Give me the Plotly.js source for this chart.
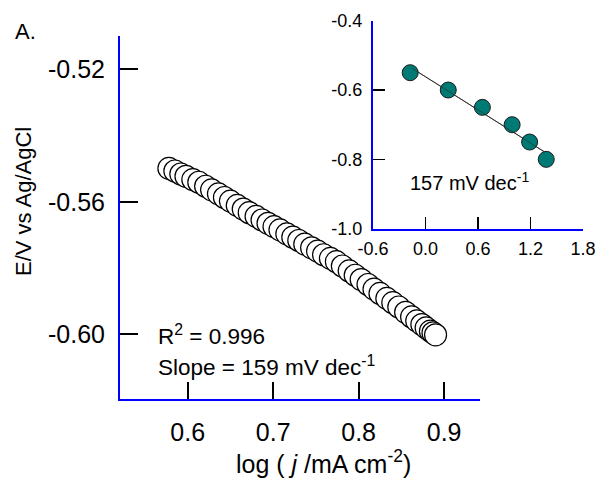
<!DOCTYPE html>
<html>
<head>
<meta charset="utf-8">
<script src="https://cdn.plot.ly/plotly-3.0.1.min.js"></script>
<style>html,body{margin:0;padding:0;background:#fff;}#chart{width:598px;height:479px;}</style>
</head>
<body>
<div id="chart"></div>
<script>
// Main Tafel data: log(j / mA cm^-2) vs E / V vs Ag/AgCl
const logJ = [0.578, 0.585, 0.592, 0.598, 0.606, 0.613, 0.621, 0.628, 0.636, 0.643,
  0.650, 0.658, 0.665, 0.672, 0.680, 0.687, 0.694, 0.701, 0.708, 0.716,
  0.723, 0.730, 0.737, 0.745, 0.752, 0.759, 0.767, 0.774, 0.781, 0.789,
  0.796, 0.803, 0.811, 0.818, 0.825, 0.833, 0.840, 0.847, 0.855, 0.862,
  0.868, 0.874, 0.879, 0.884, 0.887, 0.890];
const potential = [-0.5499, -0.5507, -0.5516, -0.5523, -0.5533, -0.5541, -0.5553, -0.5564, -0.5576, -0.5587,
  -0.5598, -0.5611, -0.5622, -0.5633, -0.5644, -0.5655, -0.5665, -0.5675, -0.5685, -0.5697,
  -0.5707, -0.5717, -0.5728, -0.5739, -0.5749, -0.5760, -0.5771, -0.5781, -0.5794, -0.5809,
  -0.5822, -0.5835, -0.5850, -0.5864, -0.5877, -0.5892, -0.5905, -0.5918, -0.5934, -0.5948,
  -0.5960, -0.5971, -0.5981, -0.5991, -0.5996, -0.6002];

// Inset data
const insetX = [-0.175, 0.26, 0.65, 0.99, 1.19, 1.38];
const insetY = [-0.55, -0.60, -0.65, -0.70, -0.75, -0.80];
const insetFitX = [-0.155, 1.357];
const insetFitY = [-0.537, -0.778];

// Tick labels
const mainXTicks = [0.6, 0.7, 0.8, 0.9];
const mainXTickText = ["0.6", "0.7", "0.8", "0.9"];
const mainYTicks = [-0.52, -0.56, -0.60];
const mainYTickText = ["-0.52", "-0.56", "-0.60"];
const insetXTicks = [-0.6, 0.0, 0.6, 1.2, 1.8];
const insetXTickText = ["-0.6", "0.0", "0.6", "1.2", "1.8"];
const insetYTicks = [-1.0, -0.8, -0.6, -0.4];
const insetYTickText = ["-1.0", "-0.8", "-0.6", "-0.4"];

const W = 598, H = 479;
const px = v => v / W;
const py = v => 1 - v / H;
const FONT = "Arial, 'Liberation Sans', sans-serif";

const traces = [
  {
    x: logJ, y: potential, type: 'scatter', mode: 'markers',
    xaxis: 'x', yaxis: 'y',
    marker: {size: 22, color: '#ffffff', line: {color: '#000000', width: 1.2}},
    cliponaxis: false, hoverinfo: 'skip'
  },
  {
    x: insetFitX, y: insetFitY, type: 'scatter', mode: 'lines',
    xaxis: 'x2', yaxis: 'y2',
    line: {color: '#333333', width: 1}, hoverinfo: 'skip'
  },
  {
    x: insetX, y: insetY, type: 'scatter', mode: 'markers',
    xaxis: 'x2', yaxis: 'y2',
    marker: {size: 16, color: '#007a74', line: {color: '#1a1a1a', width: 1}},
    cliponaxis: false, hoverinfo: 'skip'
  },
  {
    x: insetFitX, y: insetFitY, type: 'scatter', mode: 'lines',
    xaxis: 'x2', yaxis: 'y2',
    line: {color: 'rgba(40,40,40,0.6)', width: 1}, hoverinfo: 'skip'
  }
];

const axisCommon = {
  showgrid: false, zeroline: false, showline: true,
  linecolor: '#0000ff', linewidth: 2,
  ticks: 'inside', tickcolor: '#000000',
  tickmode: 'array', fixedrange: true
};

const layout = {
  width: W, height: H,
  margin: {l: 0, r: 0, t: 0, b: 0},
  paper_bgcolor: '#ffffff', plot_bgcolor: 'rgba(0,0,0,0)',
  showlegend: false,
  font: {family: FONT, color: '#000000'},
  xaxis: Object.assign({}, axisCommon, {
    domain: [px(120), px(480)], range: [0.5208, 0.942],
    anchor: 'y', tickvals: mainXTicks, ticktext: mainXTickText,
    ticklen: 17, tickwidth: 2, tickfont: {size: 25, family: FONT},
    ticklabelstandoff: 10
  }),
  yaxis: Object.assign({}, axisCommon, {
    domain: [1 - 399 / H, 1 - 36 / H], range: [-0.6196, -0.5099],
    anchor: 'x', tickvals: mainYTicks, ticktext: mainYTickText,
    ticklen: 18, tickwidth: 2, tickfont: {size: 25, family: FONT},
    ticklabelstandoff: 8
  }),
  xaxis2: Object.assign({}, axisCommon, {
    domain: [px(373), px(583)], range: [-0.6, 1.8],
    anchor: 'y2', tickvals: insetXTicks, ticktext: insetXTickText,
    ticklen: 12, tickwidth: 1.5, tickfont: {size: 18, family: FONT},
    ticklabelstandoff: 3
  }),
  yaxis2: Object.assign({}, axisCommon, {
    domain: [1 - 228.7 / H, 1 - 20.7 / H], range: [-1.0, -0.4],
    anchor: 'x2', tickvals: insetYTicks, ticktext: insetYTickText,
    ticklen: 12, tickwidth: 1.5, tickfont: {size: 18, family: FONT},
    ticklabelstandoff: 5
  }),
  annotations: [
    {xref: 'paper', yref: 'paper', x: px(25), y: py(31), text: 'A.', showarrow: false,
     xanchor: 'center', yanchor: 'middle', font: {size: 22, family: FONT}},
    {xref: 'paper', yref: 'paper', x: px(24), y: py(202), text: 'E/V vs Ag/AgCl', showarrow: false,
     textangle: -90, xanchor: 'center', yanchor: 'middle', font: {size: 22, family: FONT}},
    {xref: 'paper', yref: 'paper', x: px(323), y: py(462), text: 'log ( <i>j</i> /mA cm<sup>-2</sup>)', showarrow: false,
     xanchor: 'center', yanchor: 'middle', font: {size: 25, family: FONT}},
    {xref: 'paper', yref: 'paper', x: px(156), y: py(335), text: 'R<sup>2</sup> = 0.996', showarrow: false,
     xanchor: 'left', yanchor: 'middle', font: {size: 22.5, family: FONT}},
    {xref: 'paper', yref: 'paper', x: px(156), y: py(366), text: 'Slope = 159 mV dec<sup>-1</sup>', showarrow: false,
     xanchor: 'left', yanchor: 'middle', font: {size: 22.5, family: FONT}},
    {xref: 'paper', yref: 'paper', x: px(408), y: py(181), text: '157 mV dec<sup>-1</sup>', showarrow: false,
     xanchor: 'left', yanchor: 'middle', font: {size: 20, family: FONT}}
  ]
};

Plotly.newPlot('chart', traces, layout, {staticPlot: true, displayModeBar: false});
</script>
</body>
</html>
